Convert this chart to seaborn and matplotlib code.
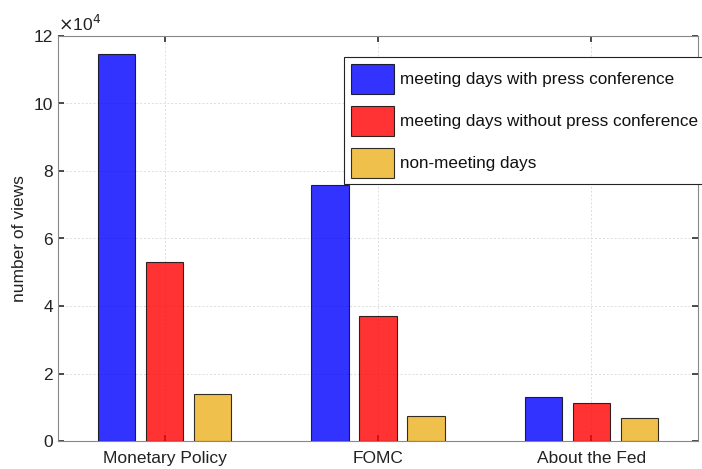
import matplotlib
matplotlib.use("Agg")
import matplotlib.pyplot as plt
import seaborn as sns
import pandas as pd
from matplotlib.ticker import FuncFormatter, MultipleLocator
from matplotlib.patches import Patch

categories = ["Monetary Policy", "FOMC", "About the Fed"]
series_names = ["meeting days with press conference",
                "meeting days without press conference",
                "non-meeting days"]
with_press = [114600, 75800, 13000]
without_press = [53000, 37000, 11200]
non_meeting = [13800, 7300, 6900]
colors = ["#0000FF", "#FF0000", "#EDB120"]

rows = []
for name, vals in zip(series_names, [with_press, without_press, non_meeting]):
    for c, v in zip(categories, vals):
        rows.append({"page": c, "type": name, "views": v})
df = pd.DataFrame(rows)

sns.set_theme(style="white")
plt.rcParams['font.family'] = ['Liberation Sans', 'DejaVu Sans']

FS = 12.5
fig = plt.figure(figsize=(7.02, 4.69), dpi=100)
ax = fig.add_axes([58/702, 1-441/469, 640/702, 405/469])

sns.barplot(data=df, x="page", y="views", hue="type", order=categories,
            hue_order=series_names, palette=colors, width=0.675, gap=0.22,
            edgecolor="#000000", linewidth=0.8, saturation=1, alpha=0.8,
            ax=ax, legend=False, zorder=3)

ax.set_xlim(-0.5, 2.5)
ax.set_ylim(0, 120000)
ax.yaxis.set_major_locator(MultipleLocator(20000))
ax.yaxis.set_major_formatter(FuncFormatter(lambda v, p: f"{v/1e4:g}"))
ax.set_xlabel("")
ax.set_ylabel("number of views", fontsize=FS, color="#222222", labelpad=5)
ax.grid(True, color="#dddddd", linestyle=(0, (2, 2)), linewidth=0.7, zorder=0)
ax.set_axisbelow(True)
for s in ax.spines.values():
    s.set_color("#888888")
    s.set_linewidth(0.8)
ax.tick_params(axis="both", direction="in", length=4, color="#333333",
               labelsize=FS, labelcolor="#222222", top=True, right=True,
               bottom=True, left=True)
ax.tick_params(axis="x", pad=7)
ax.text(0.0, 1.005, r"$\times$10$^4$", transform=ax.transAxes, fontsize=FS,
        color="#222222", ha="left", va="bottom")

handles = [Patch(facecolor=c, edgecolor="#000000", linewidth=0.8, alpha=0.8)
           for c in colors]
leg = fig.legend(handles, series_names, loc="upper left",
                 bbox_to_anchor=(344/702, 1-57/469), fontsize=12.3,
                 frameon=True, fancybox=False, handlelength=2.5,
                 handleheight=2.3, handletextpad=0.35, labelspacing=0.72,
                 borderpad=0.4, borderaxespad=0, labelcolor="#111111")
leg.get_frame().set_edgecolor("#222222")
leg.get_frame().set_linewidth(0.8)
leg.get_frame().set_alpha(1)

fig.savefig("out.png", dpi=100)
